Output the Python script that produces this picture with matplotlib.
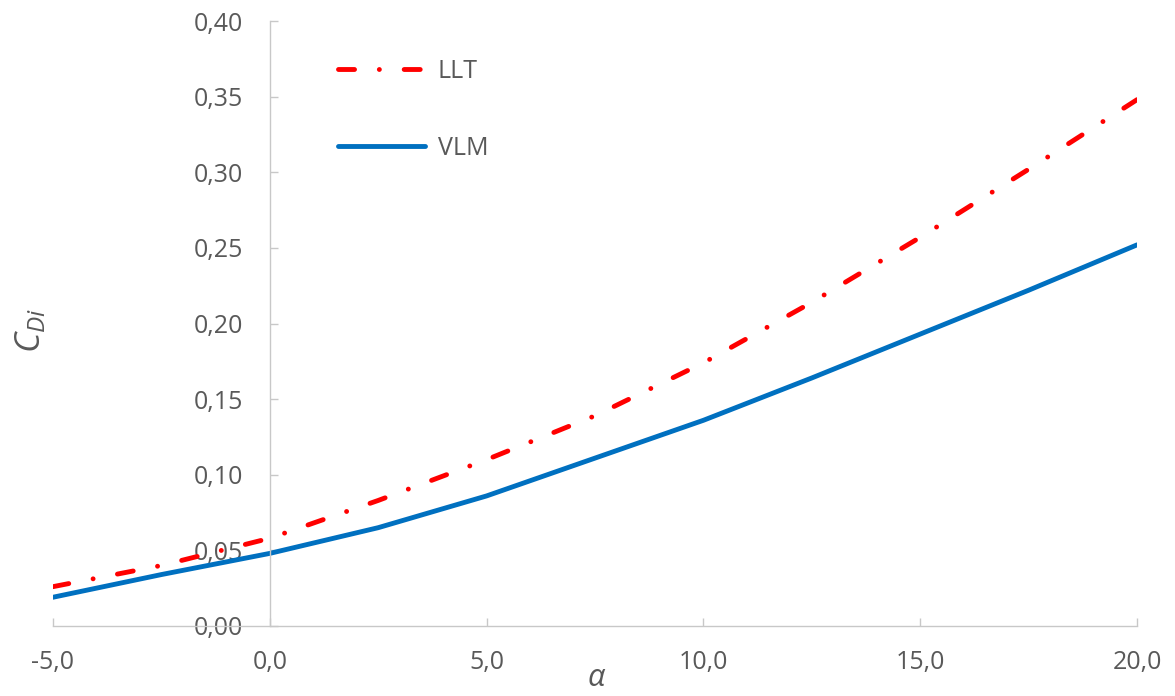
import matplotlib
matplotlib.use("Agg")
import matplotlib.pyplot as plt

# angle of attack and induced drag coefficient for the two methods
alpha = [-5.0, -2.5, 0.0, 2.5, 5.0, 7.5, 10.0, 12.5, 15.0, 17.5, 20.0]
cdi_llt = [0.026, 0.040, 0.058, 0.083, 0.110, 0.139, 0.174, 0.214, 0.257, 0.302, 0.348]
cdi_vlm = [0.019, 0.034, 0.048, 0.065, 0.086, 0.111, 0.136, 0.164, 0.193, 0.222, 0.252]

x_ticks = [-5.0, 0.0, 5.0, 10.0, 15.0, 20.0]
x_labels = ["-5,0", "0,0", "5,0", "10,0", "15,0", "20,0"]
y_ticks = [0.00, 0.05, 0.10, 0.15, 0.20, 0.25, 0.30, 0.35, 0.40]
y_labels = ["0,00", "0,05", "0,10", "0,15", "0,20", "0,25", "0,30", "0,35", "0,40"]

plt.rcParams['font.family'] = ['Open Sans', 'DejaVu Sans']
plt.rcParams['mathtext.fontset'] = 'custom'
plt.rcParams['mathtext.it'] = 'Open Sans:italic'
plt.rcParams['mathtext.rm'] = 'Open Sans'

txt = '#595959'
axc = '#C8C8C8'

fig = plt.figure(figsize=(11.75, 6.96), dpi=100)
ax = fig.add_axes([0.0451, 0.1006, 0.9226, 0.8692])

ax.plot(alpha, cdi_llt, color='#FF0000', lw=3.5, dashes=(3.3, 5.1, 0.01, 5.1),
        dash_capstyle='round', label='LLT')
ax.plot(alpha, cdi_vlm, color='#0070C0', lw=3.5, solid_capstyle='round', label='VLM')

ax.set_xlim(-5, 20)
ax.set_ylim(0, 0.40)

for s in ['top', 'right']:
    ax.spines[s].set_visible(False)
ax.spines['left'].set_position(('data', 0))
ax.spines['bottom'].set_position(('data', 0))
for s in ['left', 'bottom']:
    ax.spines[s].set_color(axc)
    ax.spines[s].set_linewidth(1.0)

ax.set_xticks(x_ticks)
ax.set_xticklabels(x_labels)
ax.set_yticks(y_ticks)
ax.set_yticklabels(y_labels)
ax.tick_params(axis='both', direction='in', length=6, width=1.0, color=axc,
               labelcolor=txt, labelsize=18)
ax.tick_params(axis='y', pad=19.5)
ax.tick_params(axis='x', pad=17)

fig.text(0.508, 0.004, r'$\alpha$', fontsize=22, color=txt, ha='center', va='bottom')
fig.text(0.026, 0.525, r'$C_{Di}$', fontsize=25, color=txt, rotation=90,
         ha='center', va='center')

leg = ax.legend(loc='upper left', bbox_to_anchor=(0.242, 0.975), frameon=False,
                fontsize=18, handlelength=3.5, handletextpad=0.5, labelspacing=2.1,
                labelcolor=txt)

fig.savefig('out.png', dpi=100)
